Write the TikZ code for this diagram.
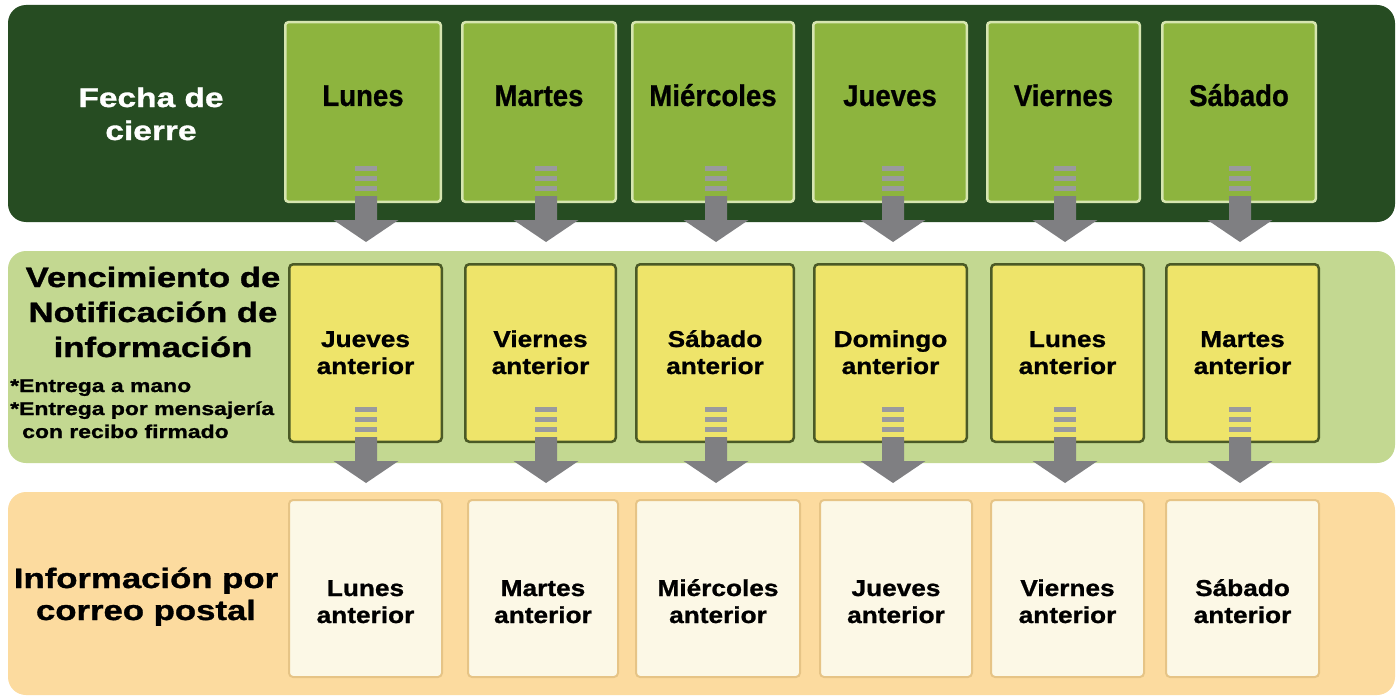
\documentclass[tikz,border=0pt]{standalone}
\usepackage{fontspec}
\setmainfont{Liberation Sans}
\newfontfamily\fTop{Liberation Sans Bold}[FakeStretch=0.92,FakeBold=0.8]
\newfontfamily\fWide{Liberation Sans Bold}[FakeStretch=1.24,FakeBold=1.2]
\newfontfamily\fBox{Liberation Sans Bold}[FakeStretch=1.14,FakeBold=1.0]
\definecolor{bandA}{HTML}{264C22}
\definecolor{boxA}{HTML}{8DB43E}
\definecolor{edgeA}{HTML}{D6E5B0}
\definecolor{bandB}{HTML}{C3D891}
\definecolor{boxB}{HTML}{EEE46A}
\definecolor{edgeB}{HTML}{4B5A26}
\definecolor{bandC}{HTML}{FCDB9F}
\definecolor{boxC}{HTML}{FCF8E6}
\definecolor{edgeC}{HTML}{E6C486}
\definecolor{arr}{HTML}{7F7F82}
\definecolor{stripe}{HTML}{9A9A9E}
\begin{document}
\begin{tikzpicture}[x=1pt,y=-1pt,
  band/.style={rectangle, rounded corners=18pt, draw=none, inner sep=0pt, minimum width=1387},
  topbox/.style={rectangle, rounded corners=3pt, fill=boxA, draw=edgeA, line width=2.5pt, inner sep=0pt},
  midbox/.style={rectangle, rounded corners=4pt, fill=boxB, draw=edgeB, line width=2.5pt, inner sep=0pt},
  botbox/.style={rectangle, rounded corners=4pt, fill=boxC, draw=edgeC, line width=2pt, inner sep=0pt},
  toplabel/.style={anchor=base, inner sep=0pt, font=\fTop\fontsize{30}{36}\selectfont},
  boxlabel/.style={anchor=base, inner sep=0pt, align=center, font=\fBox\fontsize{23}{27}\selectfont},
  sidelabel/.style={anchor=base, inner sep=0pt, align=center},
  blockarrow/.pic={
    \foreach \k in {0,1,2} \fill[stripe] (-11,10*\k) rectangle (11,10*\k+5);
    \fill[arr] (-11,30) -- (11,30) -- (11,54) -- (32.5,54) -- (0,76) -- (-32.5,54) -- (-11,54) -- cycle;
  }]
\useasboundingbox (0,0) rectangle (1396,698);
\fill[white] (0,0) rectangle (1396,698);
% bands
\node[band, fill=bandA, minimum height=217] (bandA) at (701.5,113.5) {};
\node[band, fill=bandB, minimum height=212] (bandB) at (701.5,357) {};
\node[band, fill=bandC, minimum height=203] (bandC) at (701.5,593.5) {};
% side labels (base anchor = baseline of last line)
\node[sidelabel, text=white, font=\fWide\fontsize{27}{33}\selectfont] (lblA) at (151,140) {Fecha de\\cierre};
\node[sidelabel, font=\fWide\fontsize{28}{35}\selectfont] (lblB) at (153,357) {Vencimiento de\\Notificación de\\información};
\node[anchor=base west, inner sep=0pt, align=left, font=\fWide\fontsize{18.5}{23}\selectfont] (notes) at (10,438) {*Entrega a mano\\*Entrega por mensajería\\\hspace*{12pt}con recibo firmado};
\node[sidelabel, font=\fWide\fontsize{28}{32}\selectfont] (lblC) at (146,620) {Información por\\correo postal};
% columns
\foreach \i/\tl/\tr/\ml/\mr/\bl/\br/\ax/\lA/\lB/\lC in {
  1/284/442/288/443/288/443/366/Lunes/Jueves/Lunes,
  2/461/617/464/617/467/619/546/Martes/Viernes/Martes,
  3/631/795/635/795/635/801/716/Miércoles/Sábado/Miércoles,
  4/812/968/813/968/819/973/893/Jueves/Domingo/Jueves,
  5/986/1141/990/1145/990/1145/1065/Viernes/Lunes/Viernes,
  6/1161/1317/1165/1320/1165/1320/1240/Sábado/Martes/Sábado}{
  \node[topbox, minimum width={\tr-\tl-2.5}, minimum height=179.5] (t\i) at ({(\tl+\tr)/2},112) {};
  \node[midbox, minimum width={\mr-\ml-2.5}, minimum height=177.5] (m\i) at ({(\ml+\mr)/2},353) {};
  \node[botbox, minimum width={\br-\bl-2}, minimum height=177] (b\i) at ({(\bl+\br)/2},588.5) {};
  \node[toplabel] (tl\i) at ({(\tl+\tr)/2},106) {\lA};
  \node[boxlabel] (ml\i) at ({(\ml+\mr)/2},374) {\lB\\anterior};
  \node[boxlabel] (bl\i) at ({(\bl+\br)/2},623) {\lC\\anterior};
  \coordinate (at\i) at (\ax,166);
  \coordinate (am\i) at (\ax,407);
  \pic at (at\i) {blockarrow};
  \pic at (am\i) {blockarrow};
}
\end{tikzpicture}
\end{document}
